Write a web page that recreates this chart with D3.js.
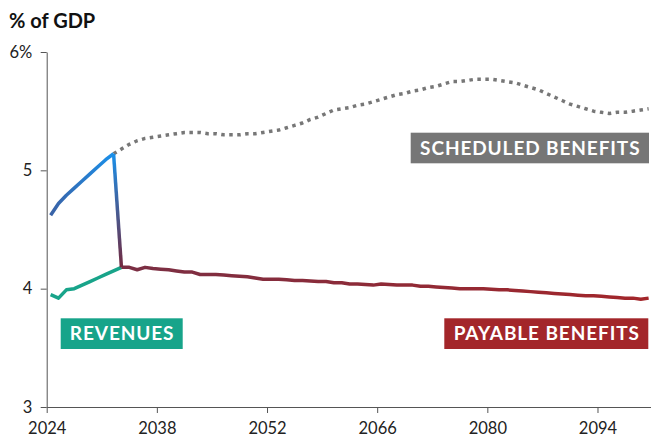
<!DOCTYPE html>
<html>
<head>
<meta charset="utf-8">
<script src="https://cdn.jsdelivr.net/npm/d3@7"></script>
<style>
  body { margin: 0; background: #fff; }
  svg { display: block; font-family: Lato, "Open Sans", sans-serif; }
  .axis text { font-size: 16.5px; fill: #222; font-family: Lato, sans-serif; }
  .axis path, .axis line { stroke: #555; }
</style>
</head>
<body>
<svg id="chart"></svg>
<script>
const width = 651
const height = 438
const margin = { top: 52, right: 0, bottom: 31, left: 46.7 }

// % of GDP, one value per year
const firstYear = 2024
const lastYear = 2100
const scheduled = [
    4.62, 4.72, 4.79, 4.85, 4.91, 4.97, 5.03, 5.09, 5.14,
    5.18, 5.22, 5.25, 5.27, 5.28, 5.29, 5.30, 5.31, 5.32, 5.32,
    5.32, 5.31, 5.31, 5.30, 5.30, 5.30, 5.31, 5.31, 5.32, 5.33,
    5.34, 5.36, 5.38, 5.40, 5.43, 5.45, 5.48, 5.51, 5.52, 5.53,
    5.55, 5.56, 5.58, 5.60, 5.62, 5.64, 5.65, 5.67, 5.68, 5.70,
    5.71, 5.73, 5.75, 5.75, 5.76, 5.77, 5.77, 5.77, 5.76, 5.75,
    5.74, 5.72, 5.70, 5.68, 5.65, 5.62, 5.59, 5.56, 5.54, 5.52,
    5.50, 5.49, 5.48, 5.49, 5.49, 5.50, 5.51, 5.52
]
const exhaustionYear = 2033
const payable = [
    4.18, 4.18, 4.16, 4.18, 4.17, 4.165, 4.16, 4.15, 4.14, 4.14,
    4.12, 4.12, 4.12, 4.115, 4.11, 4.105, 4.10, 4.09, 4.08, 4.08,
    4.08, 4.075, 4.07, 4.07, 4.065, 4.06, 4.06, 4.05, 4.05, 4.04,
    4.04, 4.035, 4.03, 4.04, 4.035, 4.03, 4.03, 4.03, 4.02, 4.02,
    4.015, 4.01, 4.005, 4.0, 4.0, 4.0, 4.0, 3.995, 3.99, 3.99,
    3.985, 3.98, 3.975, 3.97, 3.965, 3.96, 3.955, 3.95, 3.945, 3.94,
    3.94, 3.935, 3.93, 3.925, 3.92, 3.92, 3.91, 3.92
]
const revenues = [3.95, 3.92, 3.99, 4.00, 4.03, 4.06, 4.09, 4.12, 4.15, 4.18]

const xTicks = [2024, 2038, 2052, 2066, 2080, 2094]
const yTicks = [3, 4, 5, 6]

const toPoints = (values, start) => values.map((v, i) => ({ year: start + i, value: v }))

const schedPts = toPoints(scheduled, firstYear)
const schedSolid = schedPts.filter(d => d.year < exhaustionYear)
const schedDotted = schedPts.filter(d => d.year >= exhaustionYear - 1)
const payPts = toPoints(payable, exhaustionYear)
const revPts = toPoints(revenues, firstYear)
const dropPts = [schedSolid[schedSolid.length - 1], payPts[0]]

const x = d3.scaleLinear()
    .domain([firstYear, lastYear + 0.8])
    .range([margin.left, width - margin.right])

const y = d3.scaleLinear()
    .domain([3, 6])
    .range([height - margin.bottom, margin.top])

// each year's value sits in the middle of its year
const line = d3.line()
    .x(d => x(d.year + 0.5))
    .y(d => y(d.value))

const svg = d3.select("#chart")
    .attr("width", width)
    .attr("height", height)

const defs = svg.append("defs")

function gradient(id, x1, y1, x2, y2, from, to) {
    const g = defs.append("linearGradient")
        .attr("id", id)
        .attr("gradientUnits", "userSpaceOnUse")
        .attr("x1", x1).attr("y1", y1)
        .attr("x2", x2).attr("y2", y2)
    g.append("stop").attr("offset", 0).attr("stop-color", from)
    g.append("stop").attr("offset", 1).attr("stop-color", to)
}

gradient("blueGrad", x(firstYear + 0.5), 0, x(exhaustionYear - 0.5), 0, "#3a62a6", "#1a90ea")
gradient("dropGrad", 0, y(dropPts[0].value), 0, y(dropPts[1].value), "#1a90ea", "#72293f")
gradient("payGrad", x(exhaustionYear + 0.5), 0, x(lastYear + 0.5), 0, "#7a2f44", "#a3262a")

svg.append("text")
    .attr("x", 9)
    .attr("y", 28.3)
    .attr("font-size", "20px")
    .attr("font-weight", "bold")
    .attr("fill", "#111")
    .text("% of GDP")

svg.append("g")
    .attr("class", "axis")
    .attr("transform", `translate(${margin.left},0)`)
    .call(d3.axisLeft(y).tickValues(yTicks).tickSize(6).tickSizeOuter(0).tickPadding(8.4)
        .tickFormat(d => d === 6 ? "6%" : d))

svg.append("g")
    .attr("class", "axis")
    .attr("transform", `translate(0,${height - margin.bottom})`)
    .call(d3.axisBottom(x).tickValues(xTicks).tickSize(6).tickSizeOuter(0).tickPadding(9.5)
        .tickFormat(d3.format("d")))

const lines = svg.append("g")
    .attr("fill", "none")
    .attr("stroke-width", 3.5)
    .attr("stroke-linejoin", "round")

lines.append("path")
    .attr("d", line(schedDotted))
    .attr("stroke", "#777")
    .attr("stroke-dasharray", "3.5,4.5")

lines.append("path")
    .attr("d", line(revPts))
    .attr("stroke", "#18a48a")

lines.append("path")
    .attr("d", line(payPts))
    .attr("stroke", "url(#payGrad)")

lines.append("path")
    .attr("d", line(schedSolid))
    .attr("stroke", "url(#blueGrad)")

lines.append("path")
    .attr("d", line(dropPts))
    .attr("stroke", "url(#dropGrad)")

const labels = [
    { text: "SCHEDULED BENEFITS", x0: 410.7, x1: 649, y0: 132.7, y1: 163.3, fill: "#767676" },
    { text: "REVENUES", x0: 60.7, x1: 182.7, y0: 318.3, y1: 349, fill: "#17a48a" },
    { text: "PAYABLE BENEFITS", x0: 444.3, x1: 648.3, y0: 318.3, y1: 349, fill: "#a3262a" }
]

const lab = svg.append("g")
    .selectAll("g")
    .data(labels)
    .join("g")

lab.append("rect")
    .attr("x", d => d.x0)
    .attr("y", d => d.y0)
    .attr("width", d => d.x1 - d.x0)
    .attr("height", d => d.y1 - d.y0)
    .attr("fill", d => d.fill)

lab.append("text")
    .attr("x", d => (d.x0 + d.x1) / 2 + 0.45)
    .attr("y", d => (d.y0 + d.y1) / 2 + 6.7)
    .attr("text-anchor", "middle")
    .attr("fill", "#fff")
    .attr("font-size", "19px")
    .attr("font-weight", "bold")
    .attr("letter-spacing", "0.9px")
    .text(d => d.text)
</script>
</body>
</html>
